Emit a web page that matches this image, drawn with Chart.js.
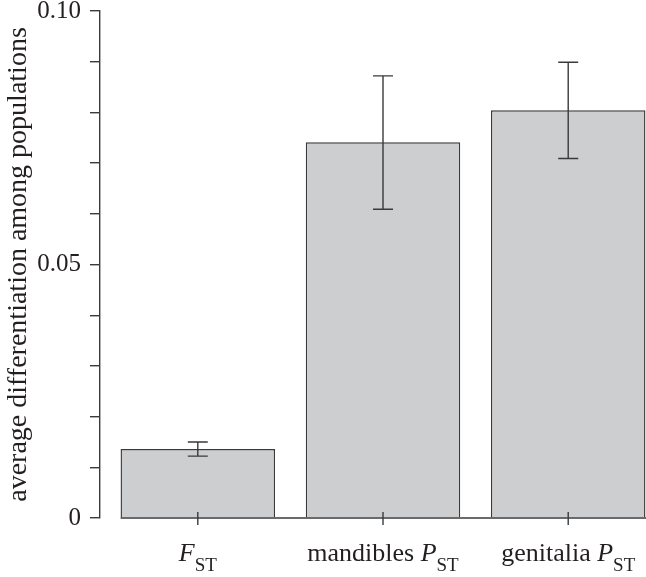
<!DOCTYPE html>
<html>
<head>
<meta charset="utf-8">
<script src="https://cdn.jsdelivr.net/npm/chart.js@4.4.0/dist/chart.umd.min.js"></script>
<style>
html, body { margin: 0; padding: 0; background: #fff; }
</style>
</head>
<body>
<canvas id="chart" width="646" height="577"></canvas>
<script>
// category labels, split into runs: r = roman, i = italic, s = subscript
const categoryLabels = [
    [['F', 'i'], ['ST', 's']],
    [['mandibles ', 'r'], ['P', 'i'], ['ST', 's']],
    [['genitalia ', 'r'], ['P', 'i'], ['ST', 's']]
];
const meanValues = [0.0136, 0.0741, 0.0804];
const errorLow = [0.0122, 0.0609, 0.0709];
const errorHigh = [0.0150, 0.0872, 0.0899];
const yTickLabels = { '0': '0', '0.05': '0.05', '0.1': '0.10' };

const ink = '#231f20';
const lineColor = '#3a3a3a';
const serif = "'Liberation Serif', 'DejaVu Serif', serif";

const errorBarsPlugin = {
    id: 'errorBars',
    afterDatasetsDraw(chart) {
        const ctx = chart.ctx;
        const x = chart.scales.x;
        const y = chart.scales.y;
        const bars = chart.getDatasetMeta(0).data;
        const y0 = y.getPixelForValue(0);

        ctx.save();
        ctx.strokeStyle = lineColor;
        ctx.lineWidth = 1.4;

        // error bars
        meanValues.forEach((v, i) => {
            const px = x.getPixelForValue(i);
            const top = y.getPixelForValue(errorHigh[i]);
            const bottom = y.getPixelForValue(errorLow[i]);
            ctx.beginPath();
            ctx.moveTo(px, top); ctx.lineTo(px, bottom);
            ctx.moveTo(px - 10, top); ctx.lineTo(px + 10, top);
            ctx.moveTo(px - 10, bottom); ctx.lineTo(px + 10, bottom);
            ctx.stroke();
        });

        // x axis line starts at the first bar
        const left = bars[0].x - bars[0].width / 2;
        ctx.beginPath();
        ctx.moveTo(left, y0);
        ctx.lineTo(chart.chartArea.right, y0);
        ctx.stroke();

        // category ticks and labels
        categoryLabels.forEach((parts, i) => {
            const px = x.getPixelForValue(i);
            ctx.beginPath();
            ctx.moveTo(px, y0 - 6); ctx.lineTo(px, y0 + 7);
            ctx.stroke();

            const fonts = {
                r: '26px ' + serif,
                i: 'italic 26px ' + serif,
                s: '19px ' + serif
            };
            let total = 0;
            const widths = parts.map(([t, s]) => {
                ctx.font = fonts[s];
                const w = ctx.measureText(t).width;
                total += w;
                return w;
            });
            let cx = px - total / 2;
            ctx.fillStyle = ink;
            ctx.textBaseline = 'alphabetic';
            ctx.textAlign = 'left';
            parts.forEach(([t, s], k) => {
                ctx.font = fonts[s];
                ctx.fillText(t, cx, s === 's' ? 571 : 561);
                cx += widths[k];
            });
        });
        ctx.restore();
    }
};

new Chart(document.getElementById('chart'), {
    type: 'bar',
    data: {
        datasets: [{
            data: meanValues.map((v, i) => ({ x: i, y: v })),
            backgroundColor: '#cdced0',
            borderColor: lineColor,
            borderWidth: 1.4,
            barPercentage: 1,
            categoryPercentage: 0.834
        }]
    },
    options: {
        responsive: false,
        animation: false,
        layout: { padding: 0 },
        plugins: {
            legend: { display: false },
            tooltip: { enabled: false }
        },
        scales: {
            x: {
                type: 'linear',
                offset: false,
                min: -0.528,
                max: 2.42,
                grid: { display: false, offset: false },
                border: { display: false },
                ticks: { display: false },
                afterBuildTicks: axis => { axis.ticks = [0, 1, 2].map(v => ({ value: v })); },
                afterFit: axis => { axis.height = 59; }
            },
            y: {
                min: 0,
                max: 0.1,
                ticks: {
                    stepSize: 0.01,
                    color: ink,
                    padding: 9,
                    font: { family: serif, size: 25, lineHeight: 0.9 },
                    callback: v => yTickLabels[String(Math.round(v * 100) / 100)] || ''
                },
                grid: {
                    drawOnChartArea: false,
                    color: lineColor,
                    lineWidth: 1.4,
                    tickLength: 10
                },
                border: { color: lineColor, width: 1.4 },
                title: {
                    display: true,
                    text: 'average differentiation among populations',
                    color: ink,
                    font: { family: serif, size: 28, lineHeight: 1 },
                    padding: { top: 5, bottom: 0 }
                },
                afterFit: axis => {
                    axis.width = 100;
                    axis.paddingTop = 11;
                    axis.paddingBottom = 11;
                }
            }
        }
    },
    plugins: [errorBarsPlugin]
});
</script>
</body>
</html>
